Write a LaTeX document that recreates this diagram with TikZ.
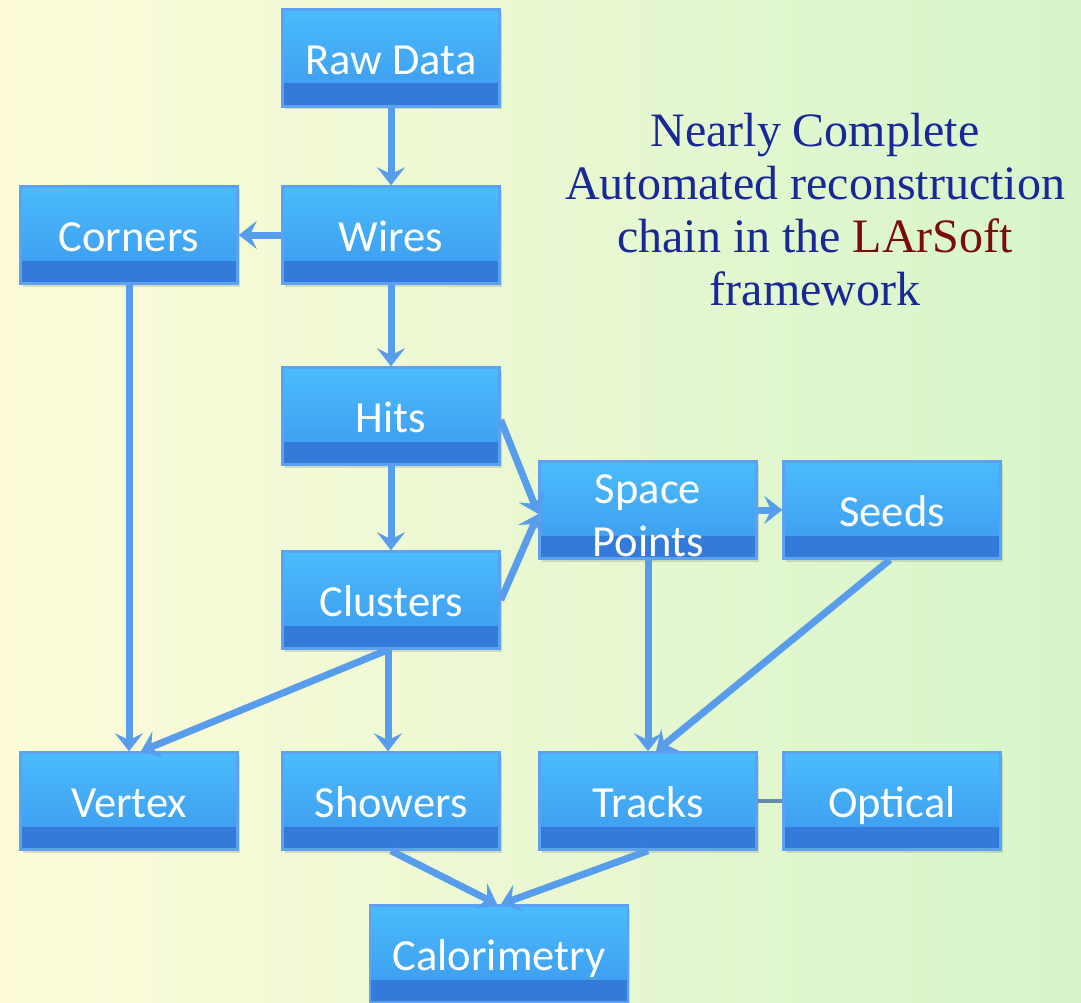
\documentclass[tikz,border=0pt]{standalone}
\usepackage{fontspec}
\usetikzlibrary{arrows.meta,shadows}
\newfontfamily\boxfont{Carlito}
\newfontfamily\titlefont{Liberation Serif}
\definecolor{boxtop}{RGB}{74,188,252}
\definecolor{boxbot}{RGB}{60,152,238}
\definecolor{bandcol}{RGB}{52,122,216}
\definecolor{boxborder}{RGB}{92,162,240}
\definecolor{arrowcol}{RGB}{88,156,236}
\definecolor{arrowshadow}{RGB}{120,140,150}
\definecolor{titleblue}{RGB}{24,40,150}
\definecolor{larred}{RGB}{122,12,12}
\definecolor{bgleft}{RGB}{253,251,218}
\definecolor{bgmid}{RGB}{248,250,212}
\definecolor{bgright}{RGB}{214,245,202}
\definecolor{linkcol}{RGB}{100,140,170}
\tikzset{
  stepbox/.style={draw=boxborder, line width=2.5pt, rectangle,
    minimum width=217pt, minimum height=97pt, inner sep=0pt,
    top color=boxtop, bottom color=boxbot,
    path picture={\fill[bandcol] (path picture bounding box.south west) rectangle ([yshift=23pt]path picture bounding box.south east);},
    drop shadow={opacity=0.25, shadow xshift=2pt, shadow yshift=-3pt},
    text=white, align=center, text height=34pt, text depth=1pt,
    font=\boxfont\fontsize{44.5}{53}\selectfont},
  boxtext/.style={text=white, align=center, inner sep=0pt,
    font=\boxfont\fontsize{44.5}{53}\selectfont},
  flow/.style={draw=arrowcol, line width=7pt, -{Stealth[length=18pt,width=28pt,inset=7pt]}},
  link/.style={draw=linkcol, line width=4pt}
}
\begin{document}
\begin{tikzpicture}[x=1pt,y=-1pt]
\useasboundingbox (0,0) rectangle (1081,1003);
\shade[left color=bgleft, middle color=bgmid, right color=bgright] (0,0) rectangle (1081,1003);

\node[stepbox] (raw) at (391,58) {Raw Data};
\node[stepbox] (corners) at (129,235) {Corners};
\node[stepbox] (wires) at (391,235) {Wires};
\node[stepbox] (hits) at (391,416) {Hits};
\node[stepbox] (sp) at (648,510) {};
\node[boxtext] (sptext) at (648,516) {Space\\Points};
\node[stepbox] (seeds) at (892,510) {Seeds};
\node[stepbox] (clusters) at (391,600) {Clusters};
\node[stepbox] (vertex) at (129,801) {Vertex};
\node[stepbox] (showers) at (391,801) {Showers};
\node[stepbox] (tracks) at (648,801) {Tracks};
\node[stepbox] (optical) at (892,801) {Optical};
\node[stepbox, minimum width=258pt] (calo) at (499,954) {Calorimetry};

\node[align=center, text=titleblue, font=\titlefont\fontsize{48}{53}\selectfont] (title) at (815,210)
  {Nearly Complete\\Automated reconstruction\\chain in the \textcolor{larred}{LArSoft}\\framework};

\draw[flow] (raw.south) -- (wires.north);
\draw[flow] (wires.west) -- (corners.east);
\draw[flow] (wires.south) -- (hits.north);
\draw[flow] (hits.south) -- (clusters.north);
\draw[flow] ([yshift=-4pt]hits.east) -- ([yshift=-4pt]sp.west);
\draw[flow] (clusters.east) -- ([yshift=-4pt]sp.west);
\draw[flow] (sp.east) -- (seeds.west);
\draw[flow] (corners.south) -- (vertex.north);
\draw[flow] ([xshift=-3pt]clusters.south) -- ([xshift=12pt]vertex.north);
\draw[flow] ([xshift=-3pt]clusters.south) -- ([xshift=-3pt]showers.north);
\draw[flow] (sp.south) -- (tracks.north);
\draw[flow] ([xshift=-2pt]seeds.south) -- ([xshift=8pt]tracks.north);
\draw[flow] (showers.south) -- ([xshift=-2pt]calo.north);
\draw[flow] (tracks.south) -- ([xshift=2pt]calo.north);
\draw[link] (tracks.east) -- (optical.west);
\end{tikzpicture}
\end{document}
